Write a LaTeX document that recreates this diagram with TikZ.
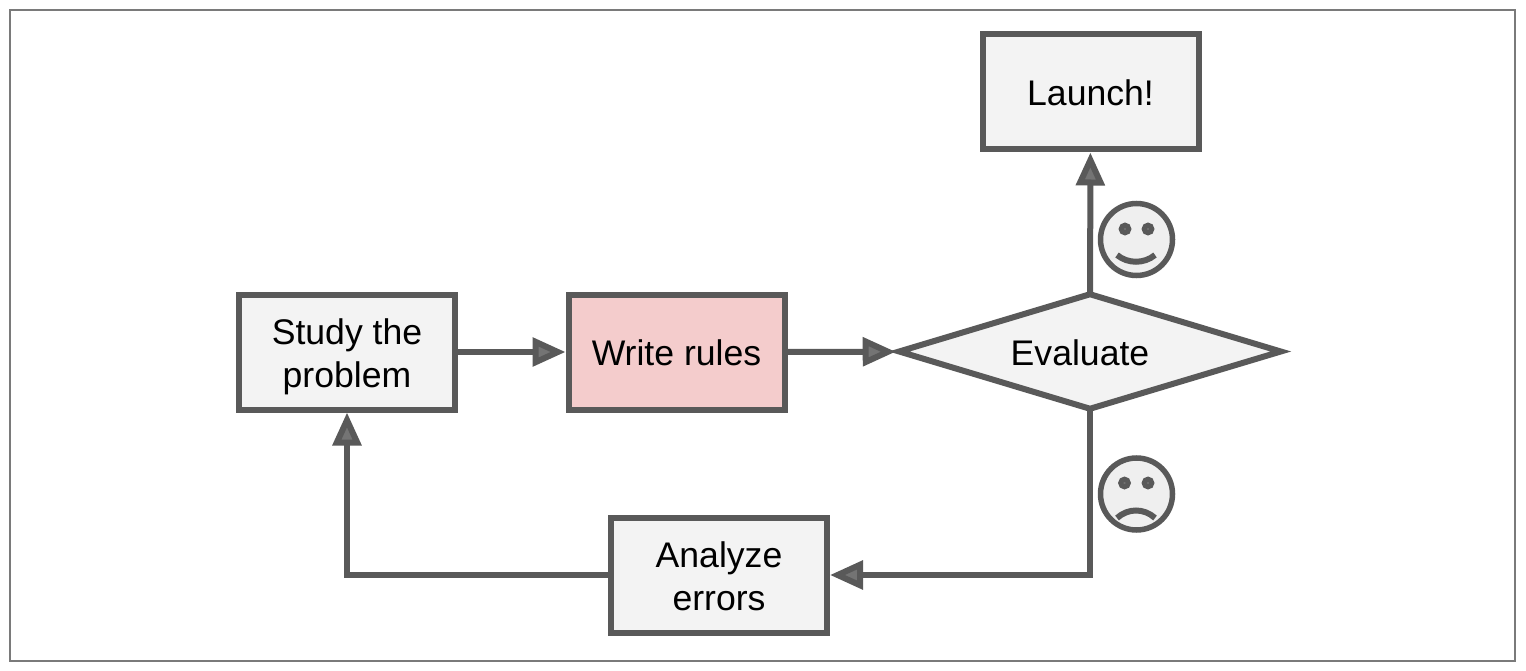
\documentclass[tikz,border=0pt]{standalone}
\usepackage{fontspec}
\setmainfont{Liberation Sans}
\usetikzlibrary{arrows.meta,shapes.geometric,calc}
\definecolor{ink}{HTML}{595959}
\definecolor{boxfill}{HTML}{F3F3F3}
\definecolor{pinkfill}{HTML}{F4CCCC}
\definecolor{tipfill}{HTML}{747474}
\definecolor{framec}{HTML}{7A7A7A}
\definecolor{facefill}{HTML}{EFEFEF}
\tikzset{
  x=1pt,y=-1pt,
  every node/.style={font=\fontsize{35.6}{43}\selectfont,text=black},
  stepbox/.style={draw=ink,line width=6pt,fill=boxfill,minimum width=216pt,minimum height=115pt,inner sep=0pt,align=center},
  decide/.style={draw=ink,line width=6pt,fill=boxfill,shape=diamond,aspect=3.4,minimum width=384pt,minimum height=117pt,inner sep=0pt},
  flow/.style={draw=ink,line width=6pt,line join=miter,-{Triangle[length=33pt,width=28pt,line width=6pt,color=ink,fill=tipfill]}},
  face/.style={draw=ink,line width=5.5pt,fill=facefill},
  eye/.style={draw=ink,line width=5pt,fill=tipfill},
  mouth/.style={draw=ink,line width=6pt,line cap=butt},
}
\begin{document}
\begin{tikzpicture}
\useasboundingbox (0,0) rectangle (1526,671);
\fill[white] (0,0) rectangle (1526,671);
\draw[framec,line width=2pt] (9.5,10.5) rectangle (1514.5,660.5);
\node[stepbox] (study) at (347,352) {\rule{0pt}{36pt}Study the\\problem};
\node[stepbox,fill=pinkfill] (write) at (676.5,352) {\rule{0pt}{28pt}Write rules};
\node[decide] (eval) at (1090,351.5) {};
\node (evaltext) at (1080,353) {Evaluate};
\node[stepbox] (launch) at (1090.5,92) {\rule{0pt}{28pt}Launch!};
\node[stepbox] (analyze) at (719,575) {\rule{0pt}{29pt}Analyze\\errors};
\draw[flow] (study) -- (write);
\draw[flow] (write) -- (eval);
\draw[flow,shorten <=-5pt] (eval) -- (launch);
\draw[flow,shorten <=-5pt] (eval.south) |- (analyze.east);
\draw[flow] (analyze.west) -| (study.south);
% happy face
\draw[face] (1136.5,239.5) circle (36);
\draw[eye] (1125,229) circle (3.8);
\draw[eye] (1148,229) circle (3.8);
\draw[mouth] (1117,255) .. controls (1128,264) and (1144,264) .. (1155,255);
% sad face
\draw[face] (1136.5,494) circle (36);
\draw[eye] (1124.5,483) circle (3.8);
\draw[eye] (1148,483) circle (3.8);
\draw[mouth] (1117,518) .. controls (1128,508) and (1144,508) .. (1155,518);
\end{tikzpicture}
\end{document}
